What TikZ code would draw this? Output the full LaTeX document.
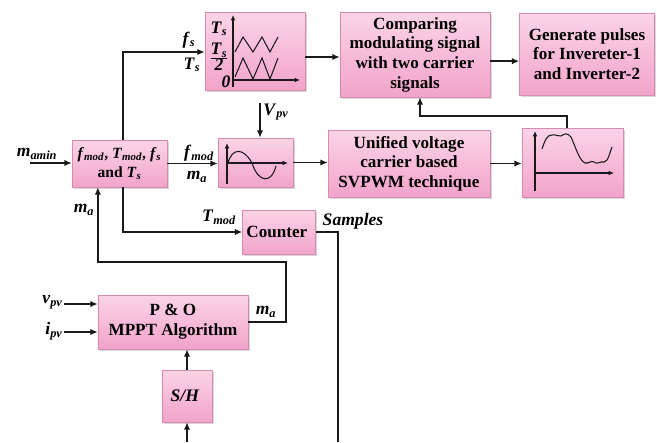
\documentclass[tikz,border=0pt]{standalone}
\usepackage{fontspec}
\setmainfont{Liberation Serif}
\usepackage{amsmath}
\usepackage{tikz}
\usetikzlibrary{arrows.meta, positioning, calc, shadows}
\definecolor{blockTop}{HTML}{FBD4E6}
\definecolor{blockBottom}{HTML}{F2A3CA}
\definecolor{blockFrame}{HTML}{D58BB0}
\definecolor{wireInk}{HTML}{1A1A1A}
\newcommand{\sig}[2]{\textbf{\textit{#1}\textsubscript{\textit{#2}}}}

\begin{document}
\begin{tikzpicture}[
    x=0.03cm, y=-0.03cm,
    block/.style={
        rectangle,
        draw=blockFrame,
        top color=blockTop,
        bottom color=blockBottom,
        align=center,
        font=\fontsize{14.6}{16.8}\selectfont\bfseries,
        line width=0.4pt,
        drop shadow={shadow xshift=1.6pt, shadow yshift=-1.6pt, fill=black!30}
    },
    lbl/.style={
        font=\fontsize{15}{17}\selectfont,
        inner sep=1pt
    },
    wire/.style={
        line width=1.2pt,
        draw=wireInk
    },
    arrow/.style={
        -{Latex[length=2.2mm, width=1.9mm]},
        line width=1.2pt,
        draw=wireInk
    },
    plot/.style={
        line width=0.9pt,
        draw=wireInk
    },
    axis/.style={
        -{Latex[length=1.6mm, width=1.4mm]},
        line width=0.9pt,
        draw=wireInk
    }
]
\useasboundingbox (0,0) rectangle (657,442);

% Nodes
\node[block, minimum width=2.85cm, minimum height=1.41cm, font=\fontsize{13.3}{16}\selectfont\bfseries] (params) at (119.5,163.5) {
\sig{f}{mod}, \sig{T}{mod}, \textit{f}\textsubscript{\textit{s}}\\
and \sig{T}{s}
};

\node[block, minimum width=3.0cm, minimum height=2.34cm] (carrier) at (255,51) {};

\node[block, minimum width=4.5cm, minimum height=2.55cm] (cmp) at (415,54.5) {
Comparing\\
modulating signal\\
with two carrier\\
signals
};

\node[block, minimum width=4.05cm, minimum height=2.46cm] (gen) at (587,54) {
Generate pulses\\
for Invereter-1\\
and Inverter-2
};

\node[block, minimum width=2.25cm, minimum height=1.47cm] (sine) at (255.5,162.5) {};

\node[block, minimum width=4.86cm, minimum height=2.01cm] (unified) at (409,163.5) {
Unified voltage\\
carrier based\\
SVPWM technique
};

\node[block, minimum width=3.03cm, minimum height=2.07cm] (wave) at (572.5,162.5) {};

\node[block, minimum width=2.04cm, minimum height=1.32cm] (counter) at (279,232) {
Counter
};

\node[block, minimum width=4.5cm, minimum height=1.62cm] (po) at (173,322) {
P \& O\\
MPPT Algorithm
};

\node[block, minimum width=1.5cm, minimum height=1.56cm, font=\fontsize{15}{17}\selectfont\bfseries\itshape] (sh) at (187,396) {
S/H
};

% Small plots inside the blocks
\draw[axis] (233,87) -- (233,15);
\draw[axis] (233,80) -- (300,80);
\draw[plot] (235,52) -- (243,37) -- (253,52) -- (262,37) -- (270,52) -- (278,37);
\draw[plot] (235,77) -- (243,58) -- (253,79) -- (262,58) -- (270,79) -- (278,58);
\node[lbl] (tsTop) at (219,29) {\sig{T}{s}};
\node[lbl] (tsHalf) at (219,57) {$\frac{\hbox{\sig{T}{s}}}{\hbox{\textbf{\textit{2}}}}$};
\node[lbl] (zero) at (226,82) {\textbf{\textit{0}}};

\draw[axis] (227,184) -- (227,143);
\draw[axis] (227,163) -- (288,163);
\draw[plot] (228,163) .. controls (232,148) and (243,147) .. (252,163)
    .. controls (258,182) and (271,185) .. (276,166);

\draw[axis] (535,191) -- (535,131);
\draw[axis] (535,173) -- (614,173);
\draw[plot] (542,149) .. controls (545,140) and (547,135) .. (552,135)
    .. controls (556,134) and (558,137) .. (561,136)
    .. controls (564,134) and (567,132) .. (571,137)
    .. controls (576,148) and (579,160) .. (585,163)
    .. controls (589,164) and (591,160) .. (594,162)
    .. controls (597,165) and (600,161) .. (604,162)
    .. controls (608,162) and (610,152) .. (612,147);

% Signal labels
\node[lbl] (maminLbl) at (37,154) {\sig{m}{amin}};
\node[lbl] (fsLbl) at (189,40) {\textit{\textbf{f}}\textsubscript{\textit{\textbf{s}}}};
\node[lbl] (TsLbl) at (192,65) {\sig{T}{s}};
\node[lbl] (fmodLbl) at (199,153) {\sig{f}{mod}};
\node[lbl] (maLbl) at (197,177) {\sig{m}{a}};
\node[lbl] (vpvLbl) at (276,112) {\sig{V}{pv}};
\node[lbl] (TmodLbl) at (219,217) {\sig{T}{mod}};
\node[lbl] (samplesLbl) at (353,221) {\textbf{\textit{Samples}}};
\node[lbl] (maUpLbl) at (84,210) {\sig{m}{a}};
\node[lbl] (maPoLbl) at (266,312) {\sig{m}{a}};
\node[lbl, anchor=east] (vpvInLbl) at (64,302) {\sig{v}{pv}};
\node[lbl, anchor=east] (ipvInLbl) at (64,331) {\sig{i}{pv}};

% Free ends and bends
\coordinate (amin) at (30,163);
\coordinate (vpv) at (260,103);
\coordinate (fb) at (420,116);
\coordinate (maturn) at (286,262);
\coordinate (samplesEnd) at (338,442);
\coordinate (shIn) at (187,442);
\coordinate (vpvIn) at (64,304);
\coordinate (ipvIn) at (64,332);

% Arrows
\draw[arrow] (amin) -- (amin -| params.west);
\draw[arrow] ([xshift=0.1cm]params.north) |- ([yshift=-0.03cm]carrier.west);
\draw[arrow] ([xshift=0.1cm]params.south) |- (counter.west);
\draw[arrow] (params.east) -- (params.east -| sine.west);
\draw[arrow] (vpv) -- (vpv |- sine.north);
\draw[arrow] (sine.east) -- (sine.east -| unified.west);
\draw[arrow] (unified.east) -- (unified.east -| wave.west);
\draw[arrow] ([xshift=-0.17cm]wave.north) |- (fb) -- (fb |- cmp.south);
\draw[arrow] ([yshift=-0.18cm]carrier.east) -- ([yshift=-0.18cm]carrier.east -| cmp.west);
\draw[arrow] ([yshift=-0.2cm]cmp.east) -- ([yshift=-0.2cm]cmp.east -| gen.west);
\draw[wire] (counter.east) -| (samplesEnd);
\draw[arrow] (po.east) -| (maturn) -| ([xshift=-0.65cm]params.south);
\draw[arrow] (shIn) -- (sh.south);
\draw[arrow] (sh.north) -- (sh.north |- po.south);
\draw[arrow] (vpvIn) -- (vpvIn -| po.west);
\draw[arrow] (ipvIn) -- (ipvIn -| po.west);

\end{tikzpicture}
\end{document}
